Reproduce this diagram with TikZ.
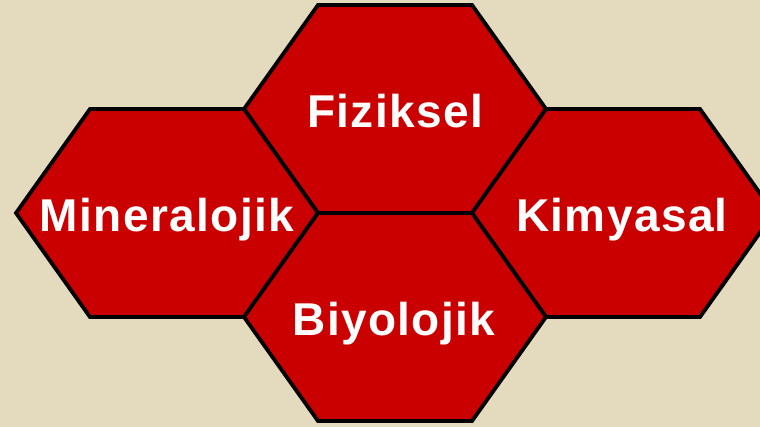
\documentclass[tikz,border=0pt]{standalone}
\usepackage{fontspec}
\usepackage{tikz}
\usetikzlibrary{positioning}
\newfontfamily\hexfont{Liberation Sans}[LetterSpace=3]
\definecolor{bgbeige}{RGB}{228,218,190}
\definecolor{hexred}{RGB}{202,0,0}

\tikzset{
  hexline/.style={fill=hexred, draw=black, line width=3.8pt, line join=miter},
  hexcell/.pic={\path[hexline] (-151,0) -- (-77,-104) -- (77,-104) -- (151,0) -- (77,104) -- (-77,104) -- cycle;},
  hexlabel/.style={text=white, font=\hexfont\bfseries\fontsize{46}{50}\selectfont, anchor=base, inner sep=0pt, yshift=-18.5pt}
}

\begin{document}
\begin{tikzpicture}[x=1pt,y=-1pt]
  \useasboundingbox (0,0) rectangle (760,427);
  \fill[bgbeige] (0,0) rectangle (760,427);
  \clip (0,0) rectangle (760,427);
  % hexagon cells
  \pic at (395,109) {hexcell};
  \pic at (167,213) {hexcell};
  \pic at (623,213) {hexcell};
  \pic at (395,317) {hexcell};
  % labels
  \node[hexlabel] (fiz) at (395,109) {Fiziksel};
  \node[hexlabel] (min) at (167,213) {Mineralojik};
  \node[hexlabel] (kim) at (622,213) {Kimyasal};
  \node[hexlabel] (biy) at (394,317) {Biyolojik};
\end{tikzpicture}
\end{document}
